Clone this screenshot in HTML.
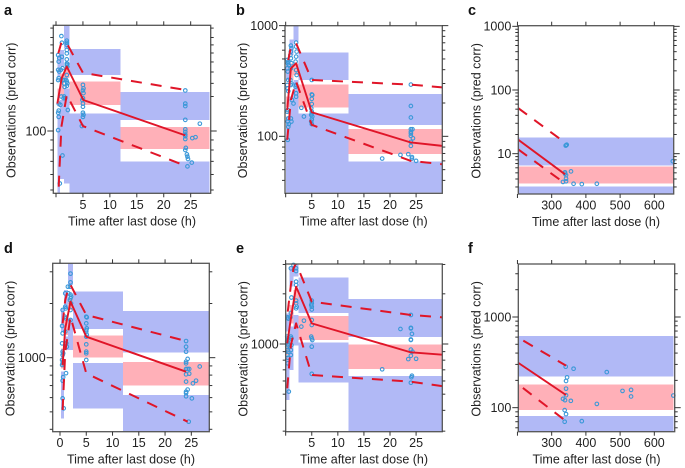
<!DOCTYPE html>
<html lang="en">
<head>
<meta charset="utf-8">
<title>Visual predictive checks</title>
<style>
html,body{margin:0;padding:0;background:#fff;width:685px;height:468px;overflow:hidden}
svg{display:block;font-family:"Liberation Sans",Arial,sans-serif;filter:blur(0.35px)}
</style>
</head>
<body>
<svg id="chart" width="685" height="468" viewBox="0 0 685 468" xmlns="http://www.w3.org/2000/svg"></svg>
<script>
// Panel a
const aXTicks=[0,5,10,15,20,25];
const aYLabels=[100];
const aYMinor=[335,300,275,250,225,200,175,150,90,80,70,60,50];
const aBins=[0.25,0.75,1.5,2.5,12,28.5];
const aUpperHi=[244,259,347,262,158];
const aUpperLo=[189,213,264,193,114];
const aMedHi=[165,197,213,179,105];
const aMedLo=[133,150,186,136,81];
const aLowHi=[123,144,165,123,70];
const aLowLo=[48,57,54,48,48];
const aMedianT=[0.25,1.05,2,5.07,24];
const aMedian=[138,186,213,144,95];
const aUpperT=[0.43,1.05,2,5,24];
const aUpper=[249,286,280,198,162];
const aLowerT=[0.5,1,2,5,24.3];
const aLower=[52,105,153,106,66];
const aPointT=[0.4,0.6,0.5,0.4,0.6,0.5,0.4,0.5,0.5,0.4,0.5,0.4,1,1.1,1.1,0.9,1.2,1,1.4,0.8,1.2,0.7,1.3,1.6,1.5,1.6,1.5,1.7,2,2,2,2,2,2,2,2.1,2,2.1,2,1.9,2,2.1,2,2.2,5,5.1,5,5.1,5,4.9,5,5,5,5.1,5,4.8,24,24,24,24,24,24,24,24,24,24.1,24,24.4,24.5,24.4,25.2,25.3,25.9,26.7,24.3];
const aPointV=[244,235,226,205,201,186,182,138,127,124,118,101,305,282,239,205,209,150,147,136,75,54,182,182,175,168,150,147,289,282,275,259,249,232,221,220,217,213,193,182,179,175,170,128,172,165,161,156,147,144,138,133,124,121,118,106,161,138,134,114,102,99,96,94,91,82,80,74,72,66,69,92,93,109,76];
// Panel b
const bXTicks=[0,5,10,15,20,25];
const bYLabels=[1000,100];
const bYMinor=[900,800,700,600,500,400,300,200,90,80,70,60,50,40];
const bBins=[0.1,0.7,1.5,2.5,12,30];
const bUpperHi=[489,752,1000,570,240];
const bUpperLo=[323,543,717,323,127];
const bMedHi=[228,457,457,293,116];
const bMedLo=[185,323,358,182,69];
const bLowHi=[151,228,323,161,59];
const bLowLo=[31,31,31,31,31];
const bMedianT=[0.3,1,2,5,24,30];
const bMedian=[173,411,457,165,88,82];
const bUpperT=[0.5,1,2,5,24,30];
const bUpper=[489,646,693,323,293,277];
const bLowerT=[0.3,1,2,5,24,30];
const bLower=[93,213,312,127,60,56];
const bPointT=[0.3,0.5,0.4,0.6,0.3,0.4,0.5,0.3,0.4,0.5,0.4,0.3,0.5,0.4,0.6,0.5,0.4,1,1.1,1,0.9,1,1.1,1,0.9,1.1,1,1.2,1,1.1,1.5,2,2,2.1,2,1.9,2,2.1,2,1.9,2,2,3,3.5,5,5,5.1,5,5,4.9,5,5,4.9,5.1,5,4.9,5,24,24,24,24,24,24,24,24,24,24.3,24.4,18.5,22,23.5,24.2,24.2,25];
const bPointV=[489,473,457,442,411,384,323,291,271,256,173,167,145,136,129,122,93,660,625,583,543,507,457,411,323,301,291,213,145,136,198,702,646,583,525,473,397,358,291,281,245,228,181,151,323,239,236,218,196,179,167,161,156,151,142,136,129,293,188,148,116,110,106,101,89,82,116,96,63,68,69,65,63,60];
// Panel c
const cXTicks=[200,300,400,500,600];
const cYLabels=[1000,100,10];
const cYMinor=[900,800,700,600,500,400,300,200,90,80,70,60,50,40,30,20,9,8,7,6,5,4,3];
const cBins=[202,656];
const cUpperHi=[17.8];
const cUpperLo=[6.56];
const cMedHi=[6.3];
const cMedLo=[3.42];
const cLowHi=[3.07];
const cLowLo=[2.2];
const cMedianT=[202,339];
const cMedian=[16.6,4.74];
const cUpperT=[202,339];
const cUpper=[52,14.9];
const cLowerT=[202,339];
const cLower=[11.7,3.4];
const cPointT=[341,344,342,339,339,356.5,342,342,342,333,364,388,432,654];
const cPointV=[13.4,13.8,13.5,5.1,4.85,5.27,4.6,4.05,3.68,3.6,3.37,3.33,3.37,7.6];
// Panel d
const dXTicks=[0,5,10,15,20,25];
const dYLabels=[1000];
const dYMinor=[3000,2000,900,800,700,600,500,400];
const dBins=[0.2,0.75,1.5,2.5,12,28.4];
const dUpperHi=[1864,2377,3400,2326,1816];
const dUpperLo=[1395,1864,2535,1443,1071];
const dMedHi=[1127,1653,2137,1325,946];
const dMedLo=[873,1337,1840,1004,702];
const dLowHi=[836,1308,1653,934,620];
const dLowLo=[460,1103,1103,523,388];
const dMedianT=[0.5,1,2,5,24];
const dMedian=[911,1455,2047,1308,836];
const dUpperT=[0.5,1,1.5,2,5,24];
const dUpper=[1551,2090,2377,2535,1727,1237];
const dLowerT=[0.5,1,2,5,24.3];
const dLower=[512,1080,1689,818,441];
const dPointT=[0.5,0.4,0.5,0.4,0.5,0.6,0.5,0.4,0.6,0.5,0.4,0.6,0.5,0.5,0.7,1,1,1.1,0.9,1.1,1,1.2,1.3,1.15,1.5,1.6,2,2,1.9,2,2.1,2,1.9,2.1,2,2,5,5.1,5,5.1,5,5,5.1,5,5,5,5,5,24,24,24,24,24,24,24,24,24,24,24,24.3,24.6,24.6,24.3,24.3,25.1,25.3,25.9,26.6,24.5];
const dPointV=[1840,1500,1365,1201,1080,1057,1035,971,950,930,911,780,745,594,523,2277,1920,1879,1689,1653,1395,1201,1150,820,2480,2277,2929,2620,2480,2240,2183,2137,2090,2003,1840,1619,1689,1675,1551,1455,1424,1395,1340,1308,1186,1080,1057,971,1237,1150,1080,950,930,865,808,736,647,635,610,865,865,815,985,665,594,720,745,893,441];
// Panel e
const eXTicks=[0,5,10,15,20,25];
const eYLabels=[1000];
const eYMinor=[3000,2000,900,800,700,600,500,400,300];
const eBins=[0.1,0.7,1.5,2.5,12,30];
const eUpperHi=[1528,2871,3100,2512,1862];
const eUpperLo=[1186,2208,2535,1535,1102];
const eMedHi=[1032,1714,2109,1472,991];
const eMedLo=[859,1330,1714,1057,708];
const eLowHi=[839,1271,1493,1023,643];
const eLowLo=[461,698,977,586,298];
const eMedianT=[0.3,1,2,5,24,30];
const eMedian=[1009,1426,2208,1330,891,863];
const eUpperT=[0.4,1,1.5,2,5,24,30];
const eUpper=[1564,2259,2844,3050,1795,1493,1445];
const eLowerT=[0.3,1,2,5,24,30];
const eLower=[542,986,1330,652,594,559];
const ePointT=[0.4,0.5,0.3,0.4,0.5,0.3,0.4,0.5,0.3,0.4,0.5,0.3,0.4,0.4,0.6,1,1.1,1,0.9,1,1.1,1.1,1,1,1.5,2,2,2,2,2,2,2.1,2,3,3.5,5,5,4.9,5,5,5,5,4.9,5,5.1,5,5,24,24,24,24,24,24,24.2,24.3,24.1,24,18.5,22,23.5,24,25,24.2];
const ePointV=[1445,1420,1107,1081,1057,1033,1009,985,964,920,900,859,828,766,518,2844,1900,1535,1445,1107,1081,985,920,859,2979,2844,2740,2366,2259,1820,1754,1674,1637,1271,1380,1820,1754,1714,1674,1610,1393,1300,1107,1081,1057,964,662,1493,1250,1240,1065,1057,925,1150,900,632,586,705,1230,812,850,815,645];
// Panel f
const fXTicks=[200,300,400,500,600];
const fYLabels=[1000,100];
const fYMinor=[3000,2000,900,800,700,600,500,400,300,200,90,80,70,60];
const fBins=[202,656];
const fUpperHi=[617];
const fUpperLo=[222];
const fMedHi=[179];
const fMedLo=[94];
const fLowHi=[81];
const fLowLo=[50];
const fMedianT=[202,342];
const fMedian=[313,138];
const fUpperT=[202,342];
const fUpper=[592,291];
const fLowerT=[202,342];
const fLower=[181,71];
const fPointT=[341,364,461,345,342,532,507,532,342,342,655.5,333,339,356,432,338,342,338,388];
const fPointV=[283,269,247,216,197,157,153,133,162,137,136,125,121,119,110,94,85,70,71];

const NS='http://www.w3.org/2000/svg';
const svg=document.getElementById('chart');
function mk(tag,parent,attrs){
  const el=document.createElementNS(NS,tag);
  for(const k in attrs)el.setAttribute(k,attrs[k]);
  parent.appendChild(el);
  return el;
}
function drawPanel(p){
  const x=t=>p.xAnchor+(t-p.xAnchorValue)*p.xPerUnit;
  const y=v=>p.yAnchor-Math.log10(v/p.yAnchorValue)*p.yPerDecade;
  const g=mk('g',svg,{});
  
  

  const clipId='clip-'+p.id;
  const defs=mk('defs',g,{});
  const cp=mk('clipPath',defs,{id:clipId});
  mk('rect',cp,{x:p.l,y:p.t,width:p.r-p.l,height:p.b-p.t});

  const letter=mk('text',g,{x:p.letterX,y:p.letterY,'font-size':14.5,'font-weight':'bold',fill:'#111'});
  letter.textContent=p.id;
  
  

  const bands=mk('g',g,{'clip-path':'url(#'+clipId+')','shape-rendering':'crispEdges'});
  
  
  const band=(x0,x1,hi,lo,fill,name)=>{
    const r=mk('rect',bands,{x:x(x0),y:y(hi),width:x(x1)-x(x0),height:y(lo)-y(hi),fill:fill});
    
    
  };
  for(let i=0;i<p.bins.length-1;i++){
    band(p.bins[i],p.bins[i+1],p.upperHi[i],p.upperLo[i],'#b1b9f6','upper-percentile-band');
    band(p.bins[i],p.bins[i+1],p.lowHi[i],p.lowLo[i],'#b1b9f6','lower-percentile-band');
  }
  for(let i=0;i<p.bins.length-1;i++){
    band(p.bins[i],p.bins[i+1],p.medHi[i],p.medLo[i],'#ffb0b8','median-band');
  }

  const pts=mk('g',g,{});
  
  
  p.pointT.forEach((t,i)=>{
    const c=mk('circle',pts,{cx:x(t),cy:y(p.pointV[i]),r:1.8,fill:'none',stroke:'#3a98d8','stroke-width':1.1});
    
    
  });

  const lines=mk('g',g,{'clip-path':'url(#'+clipId+')',fill:'none',stroke:'#e01528','stroke-linejoin':'round'});
  const line=(ts,vs,name,dash)=>{
    const d=ts.map((t,i)=>(i?'L':'M')+x(t).toFixed(2)+' '+y(vs[i]).toFixed(2)).join(' ');
    const l=mk('path',lines,{d:d,'stroke-width':dash?2:1.9});
    if(dash){l.setAttribute('stroke-dasharray','11 9');l.setAttribute('stroke-dashoffset',p.dashOffset);}
    
    
  };
  line(p.upperT,p.upper,'upper-percentile-line',true);
  line(p.lowerT,p.lower,'lower-percentile-line',true);
  line(p.medianT,p.median,'median-line',false);

  const frame=mk('rect',g,{x:p.l,y:p.t,width:p.r-p.l,height:p.b-p.t,fill:'none',stroke:'#555','stroke-width':1.3});
  
  

  const xAxis=mk('g',g,{stroke:'#333','stroke-width':1});
  
  
  p.xTicks.forEach(t=>{
    const px=x(t);
    if(px<p.l-1)return;
    mk('line',xAxis,{x1:px,x2:px,y1:p.b,y2:p.b+4});
    mk('line',xAxis,{x1:px,x2:px,y1:p.t,y2:p.t-4});
    if(px<p.l+3)return;
    const lb=mk('text',g,{x:px,y:p.b+15.5,'text-anchor':'middle','font-size':p.fontSize,fill:'#222'});
    lb.textContent=String(t);
    
    
  });

  const yAxis=mk('g',g,{stroke:'#333','stroke-width':1});
  
  
  p.yMinor.forEach(v=>{
    const py=y(v);
    mk('line',yAxis,{x1:p.l-3,x2:p.l,y1:py,y2:py});
    mk('line',yAxis,{x1:p.r,x2:p.r+3,y1:py,y2:py});
  });
  p.yLabels.forEach(v=>{
    const py=y(v);
    mk('line',yAxis,{x1:p.l-6,x2:p.l,y1:py,y2:py});
    mk('line',yAxis,{x1:p.r,x2:p.r+6,y1:py,y2:py});
    const lb=mk('text',g,{x:p.l-7,y:py+4.3,'text-anchor':'end','font-size':p.fontSize,fill:'#222'});
    lb.textContent=String(v);
    
    
  });

  const xt=mk('text',g,{x:(p.l+p.r)/2,y:p.b+32,'text-anchor':'middle','font-size':p.fontSize,fill:'#222'});
  xt.textContent='Time after last dose (h)';
  
  

  const cy=(p.t+p.b)/2+1, lx=p.l-38;
  const yt=mk('text',g,{x:lx,y:cy,'text-anchor':'middle','font-size':p.fontSize,fill:'#222',transform:'rotate(-90 '+lx+' '+cy+')'});
  yt.textContent='Observations (pred corr)';
  
  
}
const FS=12.5;
drawPanel({id:'a',l:53.3,t:25.3,r:210.7,b:193.3,letterX:4,letterY:15,fontSize:FS,dashOffset:0,
  xAnchor:56,xAnchorValue:0,xPerUnit:5.387,yAnchor:131,yAnchorValue:100,yPerDecade:196,
  xTicks:aXTicks,yLabels:aYLabels,yMinor:aYMinor,bins:aBins,upperHi:aUpperHi,upperLo:aUpperLo,medHi:aMedHi,medLo:aMedLo,lowHi:aLowHi,lowLo:aLowLo,
  medianT:aMedianT,median:aMedian,upperT:aUpperT,upper:aUpper,lowerT:aLowerT,lower:aLower,pointT:aPointT,pointV:aPointV});
drawPanel({id:'b',l:285,t:25.7,r:442.3,b:193.3,letterX:236,letterY:15,fontSize:FS,dashOffset:0,
  xAnchor:285.67,xAnchorValue:0,xPerUnit:5.217,yAnchor:136.33,yAnchorValue:100,yPerDecade:110.7,
  xTicks:bXTicks,yLabels:bYLabels,yMinor:bYMinor,bins:bBins,upperHi:bUpperHi,upperLo:bUpperLo,medHi:bMedHi,medLo:bMedLo,lowHi:bLowHi,lowLo:bLowLo,
  medianT:bMedianT,median:bMedian,upperT:bUpperT,upper:bUpper,lowerT:bLowerT,lower:bLower,pointT:bPointT,pointV:bPointV});
drawPanel({id:'c',l:518.3,t:25.7,r:673.7,b:194,letterX:468,letterY:15,fontSize:FS,dashOffset:0,
  xAnchor:551.67,xAnchorValue:300,xPerUnit:0.3422,yAnchor:90,yAnchorValue:100,yPerDecade:63.67,
  xTicks:cXTicks,yLabels:cYLabels,yMinor:cYMinor,bins:cBins,upperHi:cUpperHi,upperLo:cUpperLo,medHi:cMedHi,medLo:cMedLo,lowHi:cLowHi,lowLo:cLowLo,
  medianT:cMedianT,median:cMedian,upperT:cUpperT,upper:cUpper,lowerT:cLowerT,lower:cLower,pointT:cPointT,pointV:cPointV});
drawPanel({id:'d',l:52.7,t:263.3,r:209.3,b:431.7,letterX:4,letterY:253,fontSize:FS,dashOffset:0,
  xAnchor:60,xAnchorValue:0,xPerUnit:5.253,yAnchor:357.67,yAnchorValue:1000,yPerDecade:180,
  xTicks:dXTicks,yLabels:dYLabels,yMinor:dYMinor,bins:dBins,upperHi:dUpperHi,upperLo:dUpperLo,medHi:dMedHi,medLo:dMedLo,lowHi:dLowHi,lowLo:dLowLo,
  medianT:dMedianT,median:dMedian,upperT:dUpperT,upper:dUpper,lowerT:dLowerT,lower:dLower,pointT:dPointT,pointV:dPointV});
drawPanel({id:'e',l:285.7,t:264,r:442.3,b:431.7,letterX:236,letterY:253,fontSize:FS,dashOffset:0,
  xAnchor:285.67,xAnchorValue:0,xPerUnit:5.217,yAnchor:344,yAnchorValue:1000,yPerDecade:166.7,
  xTicks:eXTicks,yLabels:eYLabels,yMinor:eYMinor,bins:eBins,upperHi:eUpperHi,upperLo:eUpperLo,medHi:eMedHi,medLo:eMedLo,lowHi:eLowHi,lowLo:eLowLo,
  medianT:eMedianT,median:eMedian,upperT:eUpperT,upper:eUpper,lowerT:eLowerT,lower:eLower,pointT:ePointT,pointV:ePointV});
drawPanel({id:'f',l:518.3,t:264,r:674.7,b:431.7,letterX:468,letterY:253,fontSize:FS,dashOffset:14,
  xAnchor:551.67,xAnchorValue:300,xPerUnit:0.3422,yAnchor:407.67,yAnchorValue:100,yPerDecade:90.67,
  xTicks:fXTicks,yLabels:fYLabels,yMinor:fYMinor,bins:fBins,upperHi:fUpperHi,upperLo:fUpperLo,medHi:fMedHi,medLo:fMedLo,lowHi:fLowHi,lowLo:fLowLo,
  medianT:fMedianT,median:fMedian,upperT:fUpperT,upper:fUpper,lowerT:fLowerT,lower:fLower,pointT:fPointT,pointV:fPointV});
</script>
</body>
</html>
